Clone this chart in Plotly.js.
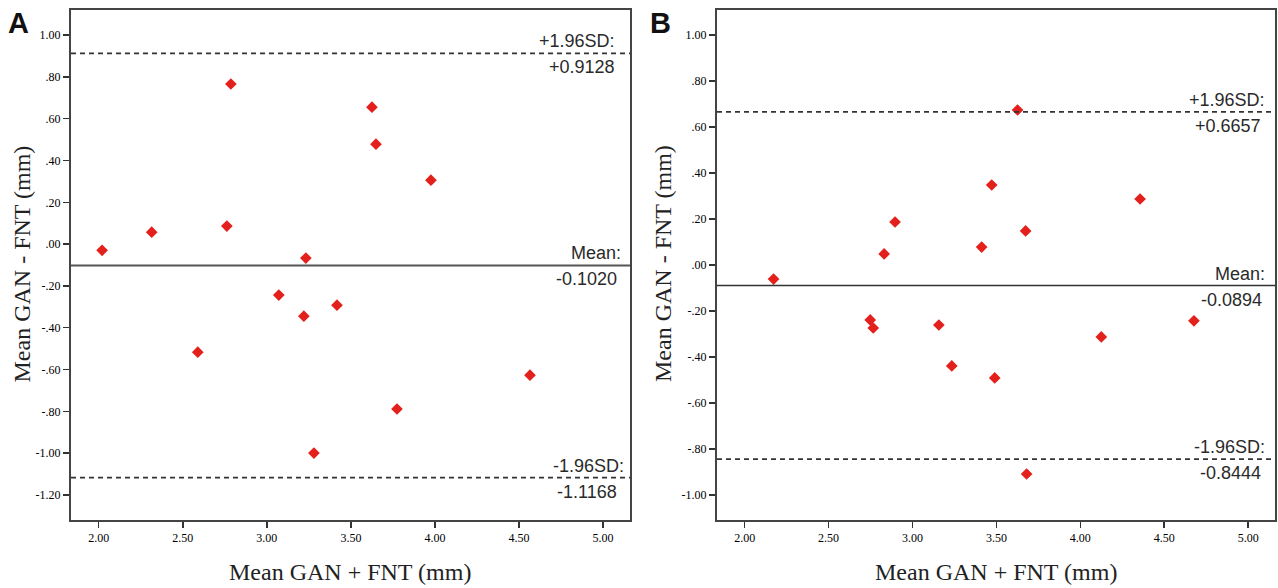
<!DOCTYPE html>
<html>
<head>
<meta charset="utf-8">
<script src="https://cdn.plot.ly/plotly-3.0.1.min.js"></script>
<style>html,body{margin:0;padding:0;background:#fff;}#chart{width:1278px;height:588px;}</style>
</head>
<body>
<div id="chart"></div>
<script>
// Panel A data (mean of GAN+FNT vs difference)
const xA = [2.02, 2.315, 2.786, 2.762, 3.232, 3.071, 3.22, 2.589, 3.28, 3.417, 3.625, 3.649, 3.976, 3.774, 4.565];
const yA = [-0.03, 0.057, 0.766, 0.086, -0.067, -0.244, -0.345, -0.517, -1.00, -0.292, 0.655, 0.478, 0.306, -0.789, -0.627];
// Panel B data
const xB = [2.172, 2.831, 2.896, 2.748, 2.766, 3.157, 3.234, 3.626, 3.472, 3.674, 3.412, 4.356, 4.677, 4.125, 3.49, 3.68];
const yB = [-0.061, 0.048, 0.187, -0.239, -0.274, -0.261, -0.439, 0.674, 0.348, 0.148, 0.078, 0.287, -0.243, -0.313, -0.491, -0.909];

// Limits of agreement: upper, mean, lower
const limitsA = [0.9128, -0.1020, -1.1168];
const limitsB = [0.6657, -0.0894, -0.8444];
const limitNames = ["+1.96SD:", "Mean:", "-1.96SD:"];
const limitValueTextA = ["+0.9128", "-0.1020", "-1.1168"];
const limitValueTextB = ["+0.6657", "-0.0894", "-0.8444"];

// Tick labels
const xTickVals = [2.0, 2.5, 3.0, 3.5, 4.0, 4.5, 5.0];
const xTickText = ["2.00", "2.50", "3.00", "3.50", "4.00", "4.50", "5.00"];
const yTickValsA = [1.0, 0.8, 0.6, 0.4, 0.2, 0.0, -0.2, -0.4, -0.6, -0.8, -1.0, -1.2];
const yTickTextA = ["1.00", ".80", ".60", ".40", ".20", ".00", "-.20", "-.40", "-.60", "-.80", "-1.00", "-1.20"];
const yTickValsB = [1.0, 0.8, 0.6, 0.4, 0.2, 0.0, -0.2, -0.4, -0.6, -0.8, -1.0];
const yTickTextB = ["1.00", ".80", ".60", ".40", ".20", ".00", "-.20", "-.40", "-.60", "-.80", "-1.00"];

const xTitle = "Mean GAN + FNT (mm)";
const yTitle = "Mean GAN - FNT (mm)";
const panelLetters = ["A", "B"];

const red = "#e3201c";
const markerStyle = {symbol: "diamond", size: 9, color: red, line: {width: 0}};

const traces = [
  {type: "scatter", mode: "markers", x: xA, y: yA, xaxis: "x", yaxis: "y", marker: markerStyle, hoverinfo: "x+y"},
  {type: "scatter", mode: "markers", x: xB, y: yB, xaxis: "x2", yaxis: "y2", marker: markerStyle, hoverinfo: "x+y"}
];

const tickFont = {family: "Liberation Serif, Times New Roman, serif", size: 12, color: "#000"};
function xAxis(domain, anchor) {
  return {domain: domain, anchor: anchor, range: [1.835, 5.16], tickvals: xTickVals, ticktext: xTickText,
    showline: true, mirror: true, linecolor: "#444", linewidth: 2, ticks: "outside", ticklen: 6, tickwidth: 1.5,
    tickcolor: "#333", showgrid: false, zeroline: false, tickfont: tickFont, fixedrange: true};
}
function yAxis(domain, anchor, range, vals, text) {
  return {domain: domain, anchor: anchor, range: range, tickvals: vals, ticktext: text,
    showline: true, mirror: true, linecolor: "#444", linewidth: 2, ticks: "outside", ticklen: 6, tickwidth: 1.5,
    tickcolor: "#333", showgrid: false, zeroline: false, tickfont: tickFont, fixedrange: true};
}

const shapes = [];
const annotations = [];
const labFont = {family: "Liberation Sans, Arial, sans-serif", size: 18, color: "#2a2a2a"};
function addLimits(limits, valueText, xref, yref, nameX, valueX, meanColor, meanWidth) {
  limits.forEach((v, i) => {
    const isMean = (i === 1);
    shapes.push({type: "line", xref: xref + " domain", yref: yref, x0: 0, x1: 1, y0: v, y1: v,
      line: isMean ? {color: meanColor, width: meanWidth} : {color: "#333", width: 1.8, dash: "5px,4px"}});
    annotations.push({xref: xref + " domain", yref: yref, x: nameX[i], y: v, xanchor: "right", yanchor: "bottom",
      text: limitNames[i], showarrow: false, font: labFont, yshift: 0});
    annotations.push({xref: xref + " domain", yref: yref, x: valueX[i], y: v, xanchor: "right", yanchor: "top",
      text: valueText[i], showarrow: false, font: labFont, yshift: -2});
  });
}
addLimits(limitsA, limitValueTextA, "x", "y", [0.976, 0.988, 0.992], [0.976, 0.981, 0.981], "#555", 2);
addLimits(limitsB, limitValueTextB, "x2", "y2", [0.985, 0.985, 0.985], [0.979, 0.98, 0.979], "#333", 1.6);

const titleFont = {family: "Liberation Serif, Times New Roman, serif", size: 24, color: "#222"};
// axis titles placed as annotations
[[350 / 1278, 21.5 / 1278], [996 / 1278, 663 / 1278]].forEach((p) => {
  annotations.push({xref: "paper", yref: "paper", x: p[0], y: 1 - 572 / 588, xanchor: "center", yanchor: "middle",
    text: xTitle, showarrow: false, font: titleFont});
  annotations.push({xref: "paper", yref: "paper", x: p[1], y: 1 - 264 / 588, xanchor: "center", yanchor: "middle",
    text: yTitle, textangle: -90, showarrow: false, font: titleFont});
});
// panel letters
[[18 / 1278], [660 / 1278]].forEach((p, i) => {
  annotations.push({xref: "paper", yref: "paper", x: p[0], y: 1 - 23 / 588, xanchor: "center", yanchor: "middle",
    text: "<b>" + panelLetters[i] + "</b>", showarrow: false,
    font: {family: "Liberation Sans, Arial, sans-serif", size: 29, color: "#111"}});
});

const dTop = 1 - 10 / 588, dBot = 1 - 520 / 588;
const layout = {
  width: 1278, height: 588,
  margin: {l: 0, r: 0, t: 0, b: 0},
  paper_bgcolor: "#fff", plot_bgcolor: "#fff",
  showlegend: false,
  xaxis: xAxis([71 / 1278, 630 / 1278], "y"),
  yaxis: yAxis([dBot, dTop], "x", [-1.32, 1.12], yTickValsA, yTickTextA),
  xaxis2: xAxis([717 / 1278, 1275 / 1278], "y2"),
  yaxis2: yAxis([dBot, dTop], "x2", [-1.109, 1.109], yTickValsB, yTickTextB),
  shapes: shapes,
  annotations: annotations
};

Plotly.newPlot("chart", traces, layout, {displayModeBar: false, staticPlot: true});
</script>
</body>
</html>
